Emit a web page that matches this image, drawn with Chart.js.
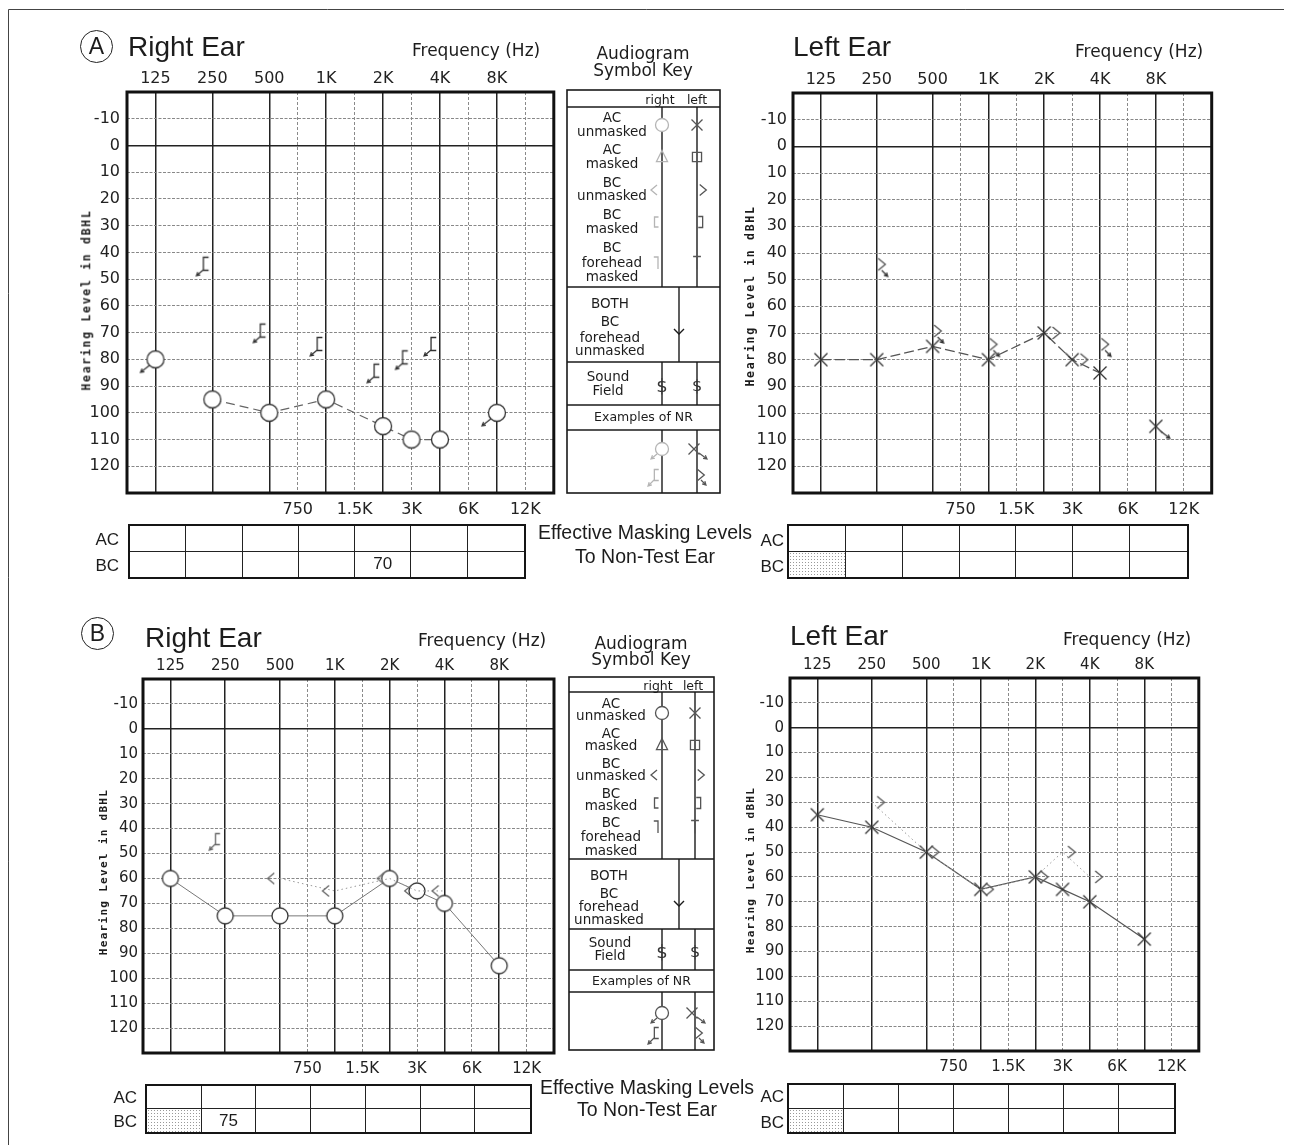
<!DOCTYPE html>
<html lang="en">
<head>
<meta charset="UTF-8">
<title>Audiograms A and B</title>
<script src="https://cdn.jsdelivr.net/npm/chart.js"></script>
<style>
  html, body { margin: 0; padding: 0; background: #fff; }
  body { position: relative; width: 1291px; height: 1145px; overflow: hidden; color: #1c1c1c; font-family: "DejaVu Sans", sans-serif; }
  .t { position: absolute; white-space: nowrap; line-height: 1; }
  canvas.chart { position: absolute; }
  #overlay { position: absolute; left: 0; top: 0; }
  .mask { position: absolute; display: grid; grid-template-columns: repeat(7, 1fr); grid-template-rows: 1fr 1fr; border: 2px solid #151515; box-sizing: border-box; }
  .mask div { border-right: 1px solid #222; border-bottom: 1px solid #222; display: flex; align-items: center; justify-content: center; font: 17px "Liberation Sans", sans-serif; }
  .mask div:nth-child(7n) { border-right: none; }
  .mask div:nth-child(n+8) { border-bottom: none; }
  .mask div.shade { background-image: radial-gradient(#999 0.7px, transparent 0.9px); background-size: 3px 3px; }
  .circ { position: absolute; width: 33px; height: 33px; border: 1.5px solid #222; border-radius: 50%; box-sizing: border-box; display: flex; align-items: center; justify-content: center; font: 23px "Liberation Sans", sans-serif; }
</style>
</head>
<body>
<canvas id="overlay" width="1291" height="1145"></canvas>
<script>
// frequency axis (octave labels on top, inter-octave labels at the bottom)
const octaveFreqs = [125, 250, 500, 1000, 2000, 4000, 8000];
const octaveLabels = ['125', '250', '500', '1K', '2K', '4K', '8K'];
const midFreqs = [750, 1500, 3000, 6000, 12000];
const midLabels = ['750', '1.5K', '3K', '6K', '12K'];
const dbTicks = [-10, 0, 10, 20, 30, 40, 50, 60, 70, 80, 90, 100, 110, 120];

// A - right ear
const aRightAcFreq = [250, 500, 1000, 2000, 3000, 4000];
const aRightAcDb = [95, 100, 95, 105, 110, 110];
const aRightAcNrFreq = [125, 8000];
const aRightAcNrDb = [80, 100];
const aRightBcNrFreq = [250, 500, 1000, 2000, 3000, 4000];
const aRightBcNrDb = [45, 70, 75, 85, 80, 75];

// A - left ear
const aLeftAcFreq = [125, 250, 500, 1000, 2000, 3000, 4000];
const aLeftAcDb = [80, 80, 75, 80, 70, 80, 85];
const aLeftAcNrFreq = [8000];
const aLeftAcNrDb = [105];
const aLeftBcFreq = [2000, 3000];
const aLeftBcDb = [70, 80];
const aLeftBcNrFreq = [250, 500, 1000, 4000];
const aLeftBcNrDb = [45, 70, 75, 75];

// B - right ear
const bRightAcFreq = [125, 250, 500, 1000, 2000, 3000, 4000, 8000];
const bRightAcDb = [60, 75, 75, 75, 60, 65, 70, 95];
const bRightBcFreq = [500, 1000, 2000, 3000, 4000];
const bRightBcDb = [60, 65, 60, 65, 65];
const bRightBcNrFreq = [250];
const bRightBcNrDb = [45];

// B - left ear
const bLeftAcFreq = [125, 250, 500, 1000, 2000, 3000, 4000, 8000];
const bLeftAcDb = [35, 40, 50, 65, 60, 65, 70, 85];
const bLeftBcFreq = [250, 500, 1000, 2000, 3000, 4000];
const bLeftBcDb = [30, 50, 65, 60, 50, 60];

// effective masking levels to non-test ear (7 cells per row)
const maskARightAC = ['', '', '', '', '', '', ''];
const maskARightBC = ['', '', '', '', '70', '', ''];
const maskALeftAC = ['', '', '', '', '', '', ''];
const maskALeftBC = ['', '', '', '', '', '', ''];
const maskBRightAC = ['', '', '', '', '', '', ''];
const maskBRightBC = ['', '75', '', '', '', '', ''];
const maskBLeftAC = ['', '', '', '', '', '', ''];
const maskBLeftBC = ['', '', '', '', '', '', ''];

const INK = '#333';
const TOP_H = 26, BOT_H = 28;

function freqPos(f) {
    const i = octaveFreqs.indexOf(f);
    return i >= 0 ? i : midFreqs.indexOf(f) + 2.5;
}

// ---------- text helpers ----------
function txt(s, x, y, size, align, extra) {
    const d = document.createElement('div');
    d.className = 't';
    d.textContent = s;
    d.style.fontSize = size + 'px';
    d.style.left = x + 'px';
    d.style.top = y + 'px';
    const tx = align === 'left' ? '0' : align === 'right' ? '-100%' : '-50%';
    d.style.transform = 'translate(' + tx + ', -50%)';
    if (extra) Object.assign(d.style, extra);
    document.body.appendChild(d);
    return d;
}

function yTitle(cx, cy, size, spacing) {
    const d = txt('Hearing Level in dBHL', cx, cy, size, 'center', {
        fontFamily: '"DejaVu Sans Mono", monospace', fontWeight: 'bold', letterSpacing: spacing + 'px'
    });
    d.style.transform = 'translate(-50%, -50%) rotate(-90deg)';
}

function circleLabel(s, x, y) {
    const d = document.createElement('div');
    d.className = 'circ';
    d.textContent = s;
    d.style.left = x + 'px';
    d.style.top = y + 'px';
    document.body.appendChild(d);
}

// ---------- symbol drawing ----------
function sym(g, type, x, y, s, color, lw) {
    g.save();
    g.strokeStyle = color;
    g.lineWidth = lw || 1.3;
    g.beginPath();
    switch (type) {
        case 'O':
            g.arc(x, y, s, 0, Math.PI * 2);
            g.fillStyle = '#fff';
            g.fill();
            break;
        case 'X':
            g.moveTo(x - s, y - s); g.lineTo(x + s, y + s);
            g.moveTo(x + s, y - s); g.lineTo(x - s, y + s);
            break;
        case '<':
            g.moveTo(x + s * 0.6, y - s); g.lineTo(x - s * 0.6, y); g.lineTo(x + s * 0.6, y + s);
            break;
        case '>':
            g.moveTo(x - s * 0.6, y - s); g.lineTo(x + s * 0.6, y); g.lineTo(x - s * 0.6, y + s);
            break;
        case '[':
            g.moveTo(x + s * 0.5, y - s); g.lineTo(x - s * 0.3, y - s); g.lineTo(x - s * 0.3, y + s); g.lineTo(x + s * 0.5, y + s);
            break;
        case ']':
            g.moveTo(x - s * 0.5, y - s); g.lineTo(x + s * 0.3, y - s); g.lineTo(x + s * 0.3, y + s); g.lineTo(x - s * 0.5, y + s);
            break;
        case 'tri':
            g.moveTo(x, y - s); g.lineTo(x + s * 0.85, y + s * 0.7); g.lineTo(x - s * 0.85, y + s * 0.7); g.closePath();
            break;
        case 'sq':
            g.rect(x - s * 0.7, y - s * 0.7, s * 1.4, s * 1.4);
            break;
        case 'rf':
            g.moveTo(x - s * 0.7, y - s); g.lineTo(x, y - s); g.lineTo(x, y + s);
            break;
        case 'lf':
            g.moveTo(x - s * 0.6, y - s); g.lineTo(x + s * 0.6, y - s);
            g.moveTo(x, y - s); g.lineTo(x, y + s);
            break;
    }
    g.stroke();
    g.restore();
}

function arrow(g, x0, y0, dx, dy, color) {
    const x1 = x0 + dx, y1 = y0 + dy, a = Math.atan2(dy, dx);
    g.save();
    g.strokeStyle = color;
    g.lineWidth = 1.2;
    g.beginPath();
    g.moveTo(x0, y0); g.lineTo(x1, y1);
    g.moveTo(x1 - 4 * Math.cos(a - 0.5), y1 - 4 * Math.sin(a - 0.5));
    g.lineTo(x1, y1);
    g.lineTo(x1 - 4 * Math.cos(a + 0.5), y1 - 4 * Math.sin(a + 0.5));
    g.stroke();
    g.restore();
}

function symImg(draw) {
    const c = document.createElement('canvas');
    c.width = 48; c.height = 48;
    draw(c.getContext('2d'), 24, 24);
    return c;
}

// point styles
const stA_O = symImg((g, x, y) => sym(g, 'O', x, y, 8.5, INK));
const stA_ONR = symImg((g, x, y) => { sym(g, 'O', x, y, 8.5, INK); arrow(g, x - 6, y + 6, -9, 7, INK); });
const stA_BNR = symImg((g, x, y) => { sym(g, '[', x - 7, y - 2, 6.5, INK); arrow(g, x - 9, y + 4, -7, 6, INK); });
const stA_X = symImg((g, x, y) => sym(g, 'X', x, y, 6.5, INK));
const stA_XNR = symImg((g, x, y) => { sym(g, 'X', x, y, 6.5, INK); arrow(g, x + 5, y + 5, 9, 7, INK); });
const stA_gt = symImg((g, x, y) => sym(g, '>', x + 12, y, 6, '#555'));
const stA_gtNR = symImg((g, x, y) => { sym(g, '>', x + 5, y - 2, 6, '#555'); arrow(g, x + 5, y + 4, 6, 6, INK); });
const stB_O = symImg((g, x, y) => sym(g, 'O', x, y, 8, INK));
const stB_lt = symImg((g, x, y) => sym(g, '<', x - 9, y, 5.5, '#666'));
const stB_BNR = symImg((g, x, y) => { sym(g, '[', x - 8, y - 2, 5.5, '#666'); arrow(g, x - 10, y + 3, -6, 6, '#666'); });
const stB_X = symImg((g, x, y) => sym(g, 'X', x, y, 6.5, INK));
const stB_gt = symImg((g, x, y) => sym(g, '>', x + 9, y, 6, '#555'));

function series(freqs, dbs, style, line) {
    return {
        data: freqs.map((f, i) => ({ x: freqPos(f), y: dbs[i] })),
        pointStyle: style,
        pointRadius: 8,
        pointHoverRadius: 8,
        showLine: !!line,
        borderColor: line ? line.color : 'rgba(0,0,0,0)',
        borderWidth: line ? line.width : 0,
        borderDash: line ? line.dash : [],
        fill: false,
        tension: 0,
        clip: false
    };
}

const frame = {
    id: 'frame',
    afterDraw(chart) {
        const { ctx, chartArea: a } = chart;
        ctx.save();
        ctx.strokeStyle = '#111';
        ctx.lineWidth = 3;
        ctx.strokeRect(a.left, a.top, a.right - a.left, a.bottom - a.top);
        ctx.restore();
    }
};

function audiogram(plot, yW, fontSize, yPad, datasets) {
    const cv = document.createElement('canvas');
    cv.className = 'chart';
    cv.width = yW + plot.w + 6;
    cv.height = TOP_H + plot.h + BOT_H;
    cv.style.left = (plot.x - yW) + 'px';
    cv.style.top = (plot.y - TOP_H) + 'px';
    document.body.appendChild(cv);
    const font = { family: '"DejaVu Sans", sans-serif', size: fontSize };
    new Chart(cv, {
        type: 'line',
        data: { datasets },
        options: {
            responsive: false,
            animation: false,
            events: [],
            layout: { padding: { right: 6 } },
            plugins: { legend: { display: false }, tooltip: { enabled: false } },
            scales: {
                x: {
                    type: 'linear', position: 'top', min: -0.5, max: 7,
                    afterBuildTicks: s => { s.ticks = octaveFreqs.map((f, i) => ({ value: i })); },
                    afterFit: s => { s.height = TOP_H; },
                    ticks: { autoSkip: false, maxRotation: 0, padding: 4, color: '#222', font, callback: (v, i) => octaveLabels[i] },
                    grid: { color: '#222', lineWidth: 1.5, drawTicks: false },
                    border: { display: false }
                },
                x2: {
                    type: 'linear', position: 'bottom', min: -0.5, max: 7,
                    afterBuildTicks: s => { s.ticks = midFreqs.map(f => ({ value: freqPos(f) })); },
                    afterFit: s => { s.height = BOT_H; },
                    ticks: { autoSkip: false, maxRotation: 0, padding: 7, color: '#222', font, callback: (v, i) => midLabels[i] },
                    grid: { color: '#8a8a8a', lineWidth: 1, drawTicks: false },
                    border: { display: false, dash: [3, 2] }
                },
                y: {
                    type: 'linear', reverse: true, min: -20, max: 130,
                    afterBuildTicks: s => { s.ticks = dbTicks.map(v => ({ value: v })); },
                    afterFit: s => { s.width = yW; },
                    ticks: { autoSkip: false, padding: yPad, color: '#222', font, callback: v => String(v) },
                    grid: {
                        color: c => (c.tick && c.tick.value === 0 ? 'rgba(0,0,0,0)' : '#888'),
                        lineWidth: 1,
                        drawTicks: false
                    },
                    border: { display: false, dash: [3, 1.5] }
                },
                // solid 0 dB reference line
                y0: {
                    type: 'linear', reverse: true, min: -20, max: 130, position: 'left',
                    afterBuildTicks: s => { s.ticks = [{ value: 0 }]; },
                    afterFit: s => { s.width = 0; },
                    ticks: { display: false },
                    grid: { color: '#222', lineWidth: 1.5, drawTicks: false },
                    border: { display: false }
                }
            }
        },
        plugins: [frame]
    });
}

// ---------- charts ----------
audiogram({ x: 127, y: 92, w: 430, h: 401 }, 42, 16, 7, [
    series(aRightAcFreq, aRightAcDb, stA_O, { color: '#666', width: 1.2, dash: [9, 5] }),
    series(aRightAcNrFreq, aRightAcNrDb, stA_ONR),
    series(aRightBcNrFreq, aRightBcNrDb, stA_BNR)
]);
audiogram({ x: 793, y: 93, w: 422, h: 400 }, 46, 16, 6, [
    series(aLeftAcFreq, aLeftAcDb, stA_X, { color: '#555', width: 1.3, dash: [10, 4] }),
    series(aLeftAcNrFreq, aLeftAcNrDb, stA_XNR),
    series(aLeftBcFreq, aLeftBcDb, stA_gt),
    series(aLeftBcNrFreq, aLeftBcNrDb, stA_gtNR)
]);
audiogram({ x: 143, y: 679, w: 414, h: 374 }, 44, 15, 5, [
    series(bRightBcFreq, bRightBcDb, stB_lt, { color: '#999', width: 1, dash: [1.5, 3] }),
    series(bRightAcFreq, bRightAcDb, stB_O, { color: '#777', width: 1, dash: [] }),
    series(bRightBcNrFreq, bRightBcNrDb, stB_BNR)
]);
audiogram({ x: 790, y: 678, w: 412, h: 373 }, 46, 15, 6, [
    series(bLeftBcFreq, bLeftBcDb, stB_gt, { color: '#999', width: 1, dash: [1.5, 3] }),
    series(bLeftAcFreq, bLeftAcDb, stB_X, { color: '#555', width: 1.2, dash: [] })
]);

// ---------- titles ----------
const titleFont = { fontFamily: '"Liberation Sans", sans-serif' };
circleLabel('A', 80, 30);
circleLabel('B', 81, 617);
txt('Right Ear', 128, 47, 28, 'left', titleFont);
txt('Left Ear', 793, 47, 28, 'left', titleFont);
txt('Right Ear', 145, 638, 28, 'left', titleFont);
txt('Left Ear', 790, 636, 28, 'left', titleFont);
txt('Frequency (Hz)', 412, 50, 17, 'left');
txt('Frequency (Hz)', 1075, 51, 17, 'left');
txt('Frequency (Hz)', 418, 640, 17, 'left');
txt('Frequency (Hz)', 1063, 639, 17, 'left');
yTitle(87, 300, 11.5, 1.7);
yTitle(751, 296, 11.5, 1.7);
yTitle(103, 872, 11, 1.3);
yTitle(750, 870, 11, 1.3);

// ---------- symbol keys ----------
const keyA = {
    x: 567, w: 153, top: 90, b: 493, rows: [107, 287, 362, 405, 430], rc: 662, lc: 697, bc: 679,
    symY: [125, 157, 190, 222, 263], labelX: 612, labelY: [118, 132, 150, 164, 183, 196, 215, 229, 248, 263, 277],
    bothX: 610, bothY: [304, 322, 338, 351], bothSym: 333, soundX: 608, soundY: [377, 391], soundSym: 386,
    nrY: 417, nrSym: [449, 477], titleX: 643, titleY: [53, 70], hdrY: 100, rightX: 660, leftX: 697, rightInk: '#b5b5b5'
};
const keyB = {
    x: 569, w: 145, top: 677, b: 1050, rows: [692, 859, 929, 970, 992], rc: 662, lc: 695, bc: 679,
    symY: [713, 745, 775, 803, 827], labelX: 611, labelY: [704, 716, 734, 746, 764, 776, 794, 806, 823, 837, 851],
    bothX: 609, bothY: [876, 894, 907, 920], bothSym: 905, soundX: 610, soundY: [943, 956], soundSym: 952,
    nrY: 981, nrSym: [1013, 1035], titleX: 641, titleY: [643, 659], hdrY: 686, rightX: 658, leftX: 693, rightInk: '#555'
};
const keyLabels = ['AC', 'unmasked', 'AC', 'masked', 'BC', 'unmasked', 'BC', 'masked', 'BC', 'forehead', 'masked'];
const bothLabels = ['BOTH', 'BC', 'forehead', 'unmasked'];

const g = document.getElementById('overlay').getContext('2d');

function drawKey(k) {
    g.save();
    g.strokeStyle = '#1a1a1a';
    g.lineWidth = 1.6;
    g.strokeRect(k.x, k.top, k.w, k.b - k.top);
    g.lineWidth = 1.4;
    const vl = (x, y0, y1) => { g.beginPath(); g.moveTo(x, y0); g.lineTo(x, y1); g.stroke(); };
    k.rows.forEach(y => { g.beginPath(); g.moveTo(k.x, y); g.lineTo(k.x + k.w, y); g.stroke(); });
    const [hdr, symEnd, bothEnd, soundEnd, nrhEnd] = k.rows;
    [k.rc, k.lc].forEach(x => { vl(x, hdr, symEnd); vl(x, bothEnd, soundEnd); vl(x, nrhEnd, k.b); });
    vl(k.bc, symEnd, bothEnd);
    // "both" forehead symbol
    g.beginPath(); g.moveTo(k.bc - 5, k.bothSym - 4); g.lineTo(k.bc, k.bothSym + 1); g.lineTo(k.bc + 5, k.bothSym - 4); g.stroke();
    g.restore();

    const r = k.rightInk, l = '#555';
    sym(g, 'O', k.rc, k.symY[0], 6.5, r);
    sym(g, 'tri', k.rc, k.symY[1], 6.5, r);
    sym(g, '<', k.rc - 8, k.symY[2], 5, r);
    sym(g, '[', k.rc - 6, k.symY[3], 5, r);
    sym(g, 'rf', k.rc - 4, k.symY[4], 6, r);
    sym(g, 'X', k.lc, k.symY[0], 5.5, l);
    sym(g, 'sq', k.lc, k.symY[1], 6.5, l);
    sym(g, '>', k.lc + 6, k.symY[2], 5.5, l);
    sym(g, ']', k.lc + 4, k.symY[3], 5.5, l);
    sym(g, 'lf', k.lc, k.symY[4], 6.5, l);
    // no-response examples
    sym(g, 'O', k.rc, k.nrSym[0], 6.5, r);
    arrow(g, k.rc - 5, k.nrSym[0] + 5, -6, 5, r);
    sym(g, 'X', k.lc - 3, k.nrSym[0], 5.5, l);
    arrow(g, k.lc + 2, k.nrSym[0] + 4, 8, 6, l);
    sym(g, '[', k.rc - 6, k.nrSym[1] - 2, 5.5, r);
    arrow(g, k.rc - 8, k.nrSym[1] + 3, -6, 6, r);
    sym(g, '>', k.lc + 4, k.nrSym[1] - 2, 5.5, l);
    arrow(g, k.lc + 4, k.nrSym[1] + 3, 5, 5, l);

    txt('Audiogram', k.titleX, k.titleY[0], 17, 'center');
    txt('Symbol Key', k.titleX, k.titleY[1], 17, 'center');
    txt('right', k.rightX, k.hdrY, 12.5, 'center');
    txt('left', k.leftX, k.hdrY, 12.5, 'center');
    keyLabels.forEach((s, i) => txt(s, k.labelX, k.labelY[i], 13.5, 'center'));
    bothLabels.forEach((s, i) => txt(s, k.bothX, k.bothY[i], 13.5, 'center'));
    txt('Sound', k.soundX, k.soundY[0], 13.5, 'center');
    txt('Field', k.soundX, k.soundY[1], 13.5, 'center');
    txt('$', k.rc, k.soundSym, 18, 'center', { color: '#333' });
    txt('$', k.lc, k.soundSym, 16, 'center', { color: '#333' });
    txt('Examples of NR', k.x + k.w / 2, k.nrY, 12.5, 'center');
}
drawKey(keyA);
drawKey(keyB);

// page frame
g.save();
g.strokeStyle = '#444';
g.lineWidth = 1;
g.beginPath();
g.moveTo(8.5, 1145); g.lineTo(8.5, 9.5); g.lineTo(1284, 9.5);
g.stroke();
g.restore();

// ---------- masking tables ----------
function maskTable(x, y, w, h, ac, bc, shade) {
    const d = document.createElement('div');
    d.className = 'mask';
    Object.assign(d.style, { left: x + 'px', top: y + 'px', width: w + 'px', height: h + 'px' });
    [ac, bc].forEach((row, ri) => row.forEach((v, ci) => {
        const cell = document.createElement('div');
        cell.textContent = v;
        if (ri === 1 && ci === 0 && shade) cell.className = 'shade';
        d.appendChild(cell);
    }));
    document.body.appendChild(d);
}
const tabFont = { fontFamily: '"Liberation Sans", sans-serif' };
maskTable(128, 524, 398, 55, maskARightAC, maskARightBC, false);
maskTable(787, 524, 402, 55, maskALeftAC, maskALeftBC, true);
maskTable(145, 1084, 387, 50, maskBRightAC, maskBRightBC, true);
maskTable(787, 1083, 389, 51, maskBLeftAC, maskBLeftBC, true);
txt('AC', 119, 539, 17, 'right', tabFont);
txt('BC', 119, 565, 17, 'right', tabFont);
txt('AC', 784, 540, 17, 'right', tabFont);
txt('BC', 784, 566, 17, 'right', tabFont);
txt('AC', 137, 1097, 17, 'right', tabFont);
txt('BC', 137, 1121, 17, 'right', tabFont);
txt('AC', 784, 1096, 17, 'right', tabFont);
txt('BC', 784, 1122, 17, 'right', tabFont);
txt('Effective Masking Levels', 645, 533, 19.5, 'center', tabFont);
txt('To Non-Test Ear', 645, 557, 19.5, 'center', tabFont);
txt('Effective Masking Levels', 647, 1088, 19.5, 'center', tabFont);
txt('To Non-Test Ear', 647, 1110, 19.5, 'center', tabFont);
</script>
</body>
</html>
